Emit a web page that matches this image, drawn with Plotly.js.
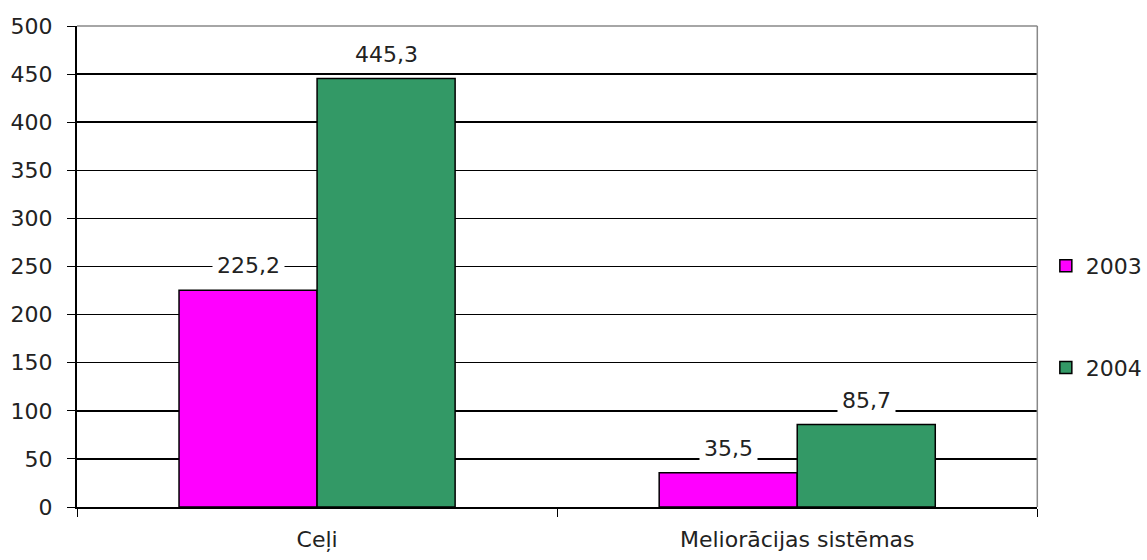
<!DOCTYPE html>
<html>
<head>
<meta charset="utf-8">
<script src="https://cdn.plot.ly/plotly-3.0.1.min.js"></script>
<style>html,body{margin:0;padding:0;background:#fff;}#chart{width:1147px;height:560px;}</style>
</head>
<body>
<div id="chart"></div>
<script>
var categories = ["Ceļi", "Meliorācijas sistēmas"];
var seriesNames = ["2003", "2004"];
var values2003 = [225.2, 35.5];
var values2004 = [445.3, 85.7];
var valueLabels2003 = ["225,2", "35,5"];
var valueLabels2004 = ["445,3", "85,7"];
var yTicks = [0, 50, 100, 150, 200, 250, 300, 350, 400, 450, 500];

var FONT = "DejaVu Sans, Verdana, sans-serif";
var FS = 22;
var bargap = 0.425;
var half = (1 - bargap) / 4;

var traces = [
  {type: "bar", name: seriesNames[0], x: categories, y: values2003, legendgroup: "a",
   marker: {color: "#FF00FF", line: {color: "#000", width: 1.5}}, hoverinfo: "none"},
  {type: "bar", name: seriesNames[1], x: categories, y: values2004, legendgroup: "b",
   marker: {color: "#339966", line: {color: "#000", width: 1.5}}, hoverinfo: "none"}
];

var annotations = [];
categories.forEach(function (c, i) {
  annotations.push({x: i - half, y: values2003[i], xref: "x", yref: "y", text: valueLabels2003[i],
    showarrow: false, yanchor: "bottom", yshift: 7, bgcolor: "#fff", borderpad: 4,
    font: {family: FONT, size: FS, color: "#222"}});
  annotations.push({x: i + half, y: values2004[i], xref: "x", yref: "y", text: valueLabels2004[i],
    showarrow: false, yanchor: "bottom", yshift: 7, bgcolor: "#fff", borderpad: 4,
    font: {family: FONT, size: FS, color: "#222"}});
});

// plot area spans x 77..1040 px; paper extends to the right edge so the legend fits inside it
var layout = {
  width: 1147, height: 560,
  margin: {l: 77, r: 0, t: 26, b: 53},
  paper_bgcolor: "#fff", plot_bgcolor: "#fff",
  barmode: "group", bargap: bargap, bargroupgap: 0,
  showlegend: true,
  legend: {x: 0.908, xanchor: "left", y: 0.395, yanchor: "middle",
    font: {family: FONT, size: FS, color: "#222"}, tracegroupgap: 70, traceorder: "grouped",
    itemwidth: 30, bgcolor: "rgba(0,0,0,0)"},
  xaxis: {type: "category", domain: [0, 963 / 1070], showline: true, linecolor: "#000", linewidth: 2,
    ticks: "outside", tickson: "boundaries", ticklen: 8, tickcolor: "#000", tickwidth: 1,
    showgrid: false, tickfont: {family: FONT, size: FS, color: "#222"}, fixedrange: true,
    ticklabelstandoff: 12},
  yaxis: {range: [0, 500], tickvals: yTicks, showline: true, linecolor: "#000", linewidth: 2,
    ticks: "outside", ticklen: 8, tickcolor: "#000", tickwidth: 1,
    showgrid: true, gridcolor: "#000", gridwidth: 1.5, zeroline: false,
    tickfont: {family: FONT, size: FS, color: "#222"}, fixedrange: true, ticklabelstandoff: 10},
  shapes: [
    {type: "line", xref: "x domain", yref: "paper", x0: 0, x1: 1, y0: 1, y1: 1, line: {color: "#888", width: 1.5}},
    {type: "line", xref: "x domain", yref: "paper", x0: 1, x1: 1, y0: 0, y1: 1, line: {color: "#888", width: 1.5}}
  ],
  annotations: annotations
};

Plotly.newPlot("chart", traces, layout, {displayModeBar: false, staticPlot: true});
</script>
</body>
</html>
